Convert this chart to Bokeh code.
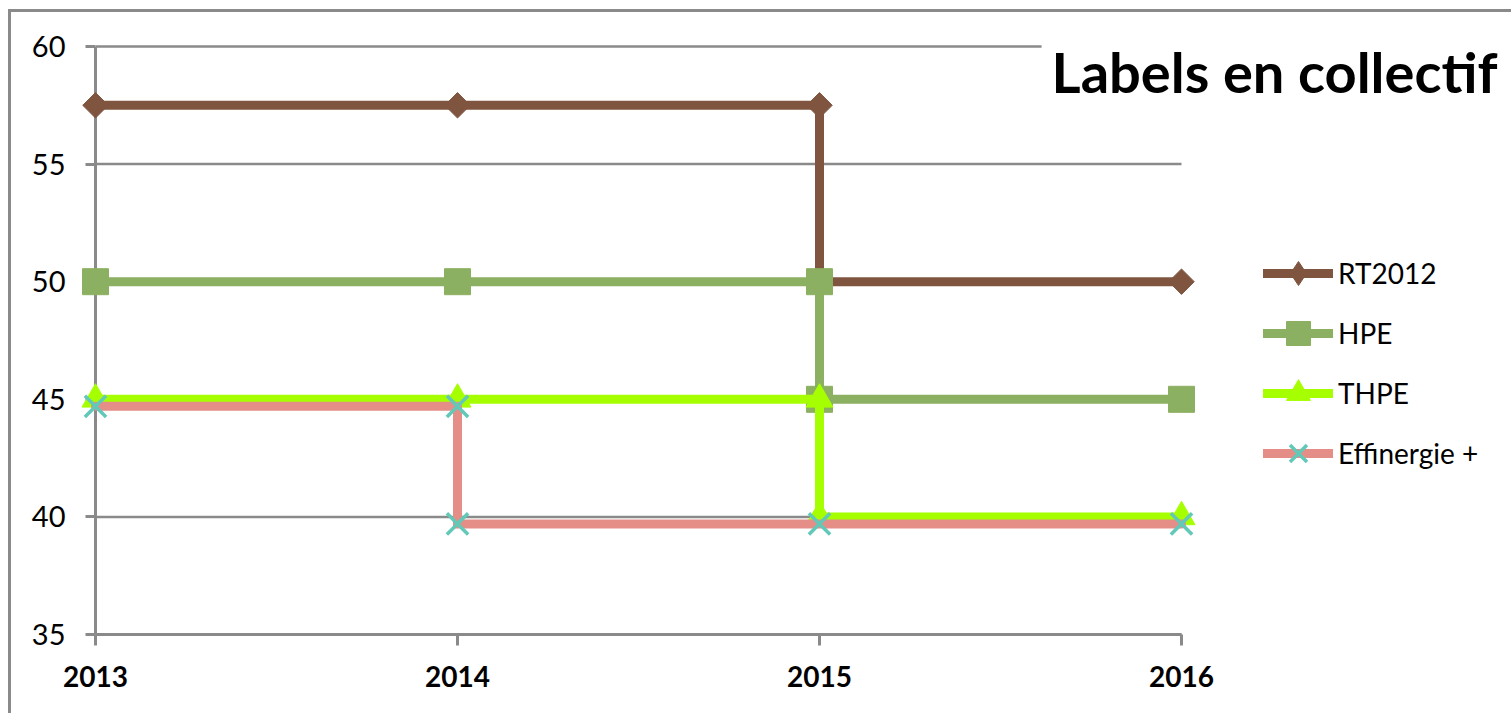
import math
from bokeh.plotting import figure
from bokeh.models import (Range1d, FixedTicker, Legend, LegendItem, Label,
                          InlineStyleSheet)
from bokeh.embed import file_html
from bokeh.resources import INLINE

# Years on the x axis and value ticks on the y axis
years = [2013, 2014, 2015, 2016]
y_ticks = [35, 40, 45, 50, 55, 60]

# Each label's threshold, drawn as a stepped path (vertical jump at the change year)
rt2012_x = [2013, 2014, 2015, 2015, 2016]
rt2012_y = [57.5, 57.5, 57.5, 50, 50]

hpe_x = [2013, 2014, 2015, 2015, 2016]
hpe_y = [50, 50, 50, 45, 45]

thpe_x = [2013, 2014, 2015, 2015, 2016]
thpe_y = [45, 45, 45, 40, 40]

eff_x = [2013, 2014, 2014, 2015, 2016]
eff_y = [44.7, 44.7, 39.7, 39.7, 39.7]

series_names = ["RT2012", "HPE", "THPE", "Effinergie +"]
chart_title = "Labels en collectif"

FONT = "Lato"
GRID = "#8a8a8a"

# layout: the frame runs to the top and right canvas edges so the legend and
# title can sit beside the plotted area; axes are bounded to the data extent
W, H = 1511, 713
LEFT, BOTTOM = 95, 79
PX_PER_YEAR = 362.0
PX_PER_UNIT = 588.0 / (y_ticks[-1] - y_ticks[0])
x_end = years[0] + (W - LEFT) / PX_PER_YEAR
y_end = y_ticks[0] + (H - BOTTOM) / PX_PER_UNIT

p = figure(width=W, height=H, output_backend="svg", toolbar_location=None,
           x_range=Range1d(years[0], x_end), y_range=Range1d(y_ticks[0], y_end),
           min_border_left=LEFT, min_border_right=0,
           min_border_top=0, min_border_bottom=BOTTOM)
p.outline_line_color = None
p.background_fill_color = "white"
p.border_fill_color = "white"

# chart-area border along the top and left edges of the canvas
p.stylesheets = [InlineStyleSheet(css="""
:host { position: relative; }
:host::after {
  content: ""; position: absolute; pointer-events: none;
  left: 8px; top: 9px; right: -20px; bottom: -20px;
  border-top: 3px solid #8a8a8a; border-left: 3px solid #8a8a8a;
}
""")]

# axes
xa = p.xaxis[0]
xa.bounds = (years[0], years[-1])
xa.ticker = FixedTicker(ticks=years)
xa.major_label_overrides = {y: str(y) for y in years}
xa.axis_line_color = GRID
xa.axis_line_width = 3
xa.major_tick_line_color = GRID
xa.major_tick_line_width = 3
xa.major_tick_in = 0
xa.major_tick_out = 11
xa.minor_tick_line_color = None
xa.major_label_text_font = FONT
xa.major_label_text_font_style = "bold"
xa.major_label_text_font_size = "28px"
xa.major_label_text_color = "black"
xa.major_label_standoff = 20

ya = p.yaxis[0]
ya.bounds = (y_ticks[0], y_ticks[-1])
ya.ticker = FixedTicker(ticks=y_ticks)
ya.axis_line_color = GRID
ya.axis_line_width = 3
ya.major_tick_line_color = GRID
ya.major_tick_line_width = 3
ya.major_tick_in = 0
ya.major_tick_out = 10
ya.minor_tick_line_color = None
ya.major_label_text_font = FONT
ya.major_label_text_font_size = "29px"
ya.major_label_text_color = "black"
ya.major_label_standoff = 20

# horizontal gridlines, limited to the year span
p.xgrid.visible = False
p.ygrid.visible = False
p.segment(x0=[years[0]] * len(y_ticks), x1=[years[-1]] * len(y_ticks),
          y0=y_ticks, y1=y_ticks, line_color=GRID, line_width=2.5,
          level="underlay")

# series
styles = [
    (rt2012_x, rt2012_y, "#80553f", "#80553f", "square", 18, math.pi / 4, 0),
    (hpe_x, hpe_y, "#8cb061", "#8cb061", "square", 26, 0, 0),
    (thpe_x, thpe_y, "#a6ff00", "#a6ff00", "triangle", 27, 0, 0),
    (eff_x, eff_y, "#e48e87", "#62c8b8", "x", 30, 0, 3.5),
]
items = []
for name, (xs, ys, lc, mc, mk, sz, ang, mlw) in zip(series_names, styles):
    lr = p.line(xs, ys, line_color=lc, line_width=9, line_join="miter",
                line_cap="round", level="overlay")
    if mk == "x":
        sr = p.scatter(xs, ys, marker=mk, size=sz, line_color=mc,
                       line_width=mlw, level="overlay")
    else:
        sr = p.scatter(xs, ys, marker=mk, size=sz, angle=ang,
                       fill_color=mc, line_color=mc, line_width=1,
                       level="overlay")
    legend_renderers = [lr, sr]
    if ang:
        # the legend ignores marker angles, so give it an upright diamond
        key = p.scatter(xs, ys, marker="diamond", size=sz, fill_color=mc,
                        line_color=mc, visible=False)
        legend_renderers = [lr, key]
    items.append(LegendItem(label=name, renderers=legend_renderers))

legend = Legend(items=items, location=(1168, 151), orientation="vertical",
                glyph_width=70, glyph_height=60, label_height=60,
                spacing=0, padding=0, margin=0, label_standoff=5,
                label_text_font=FONT, label_text_font_size="28px",
                label_text_color="black", label_text_baseline="middle",
                border_line_color=None, background_fill_alpha=0,
                inactive_fill_alpha=0, click_policy="none")
p.add_layout(legend)

# chart title in the top-right corner, on a white box over the top gridline
title = Label(x=W - 4 - LEFT, y=(H - BOTTOM) - 71,
              x_units="screen", y_units="screen",
              text=chart_title, text_align="right", text_baseline="alphabetic",
              text_font=FONT, text_font_style="bold",
              text_font_size="56px", text_color="black",
              background_fill_color="white", padding=10)
p.add_layout(title)

open("out.html", "w").write(file_html(p, INLINE))
